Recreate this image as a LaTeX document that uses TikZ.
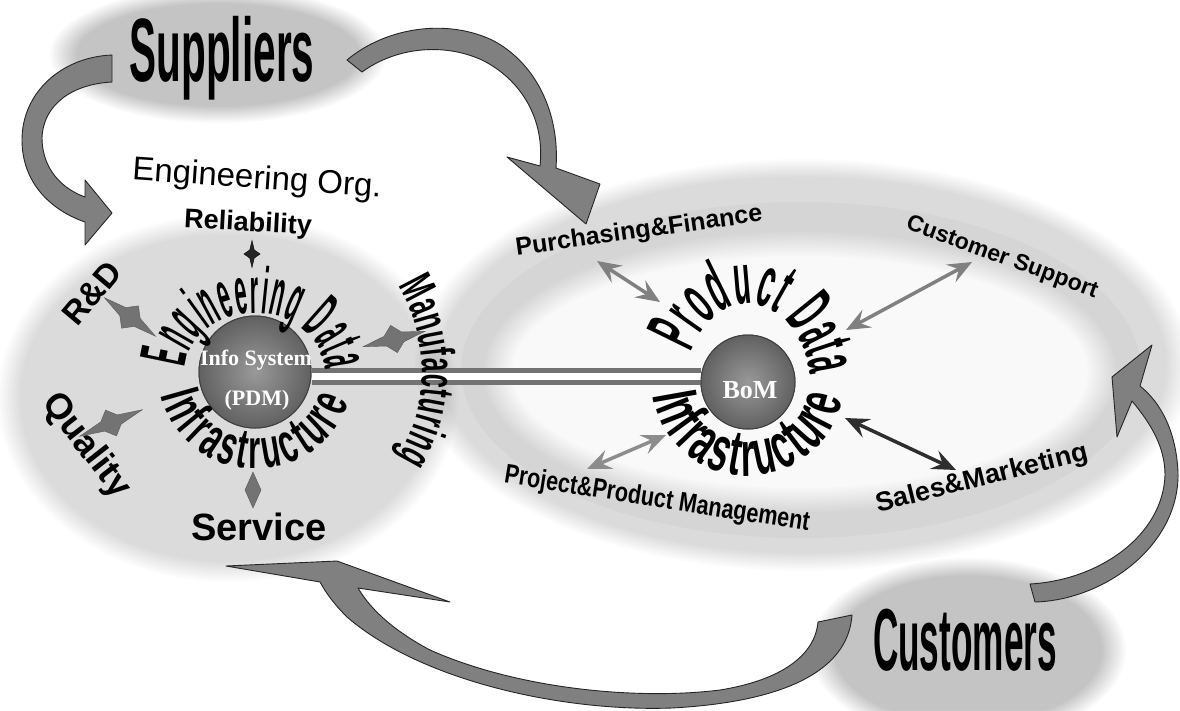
\documentclass[tikz,border=0pt]{standalone}
\usepackage{fontspec}
\setmainfont{Liberation Sans}
\newfontfamily\supfont[FakeStretch=0.45]{Liberation Sans}
\newfontfamily\custfont[FakeStretch=0.40]{Liberation Sans}
\newfontfamily\engfont[FakeStretch=0.33]{Liberation Sans}
\newfontfamily\arcfont[FakeStretch=0.55]{Liberation Sans}
\newfontfamily\manfont[FakeStretch=0.52]{Liberation Sans}
\newfontfamily\bigarcfont[FakeStretch=0.39]{Liberation Sans}
\newfontfamily\condfont[FakeStretch=0.8]{Liberation Sans}
\newfontfamily\serf{Liberation Serif}
\usetikzlibrary{arrows.meta,decorations.text,shapes.geometric}
\begin{document}
\begin{tikzpicture}[x=1pt,y=-1pt,
  bandarrow/.style={fill=black!50, draw=black!85, line width=0.9pt, line join=round},
  starfill/.style={fill=black!55, draw=black!65, line width=0.4pt, line join=miter},
  thinar/.style={line width=3.5pt, {Stealth[length=24pt,width=20pt,inset=9pt]}-{Stealth[length=24pt,width=20pt,inset=9pt]}},
  hub/.style={circle, draw=black!75, line width=1pt, inner color=black!40, outer color=black!62, inner sep=0pt},
  lbl/.style={inner sep=0pt, text=black},
  haze/.style={fill=black, fill opacity=#1},
  pics/fourstar/.style args={#1/#2/#3}{code={
    \fill[starfill] (#1,0) -- (9,5) -- (0,#2) -- (-9,5) -- (-#1,0) -- (-9,-5) -- (0,-#2) -- (9,-5) -- cycle;}},
]
\useasboundingbox (0,0) rectangle (1180,710);
\fill[white] (0,0) rectangle (1180,710);

% background blobs (soft edges from stacked translucent layers)
\fill[haze=0.025] (801,370) ellipse [x radius=340, y radius=168];
\foreach \k in {0,...,11}{
  \fill[haze=0.012, even odd rule] (803,365) ellipse [x radius={388-2.2*\k}, y radius={206-1.6*\k}]
     (800,372) ellipse [x radius={288+2.6*\k}, y radius={116+2.2*\k}];
}
\foreach \k in {0,...,11}{
  \fill[haze=0.011] (228,398) ellipse [x radius={230-2*\k}, y radius={184-1.8*\k}];
}
\foreach \k in {0,...,11}{
  \fill[haze=0.021] (218,55) ellipse [x radius={168-2.4*\k}, y radius={68-1.5*\k}];
}
\foreach \k in {0,...,11}{
  \fill[haze=0.020] (968,650) ellipse [x radius={158-2.2*\k}, y radius={92-1.6*\k}];
}

% big block arrows
\draw[bandarrow] (112,55) .. controls (62,57) and (22,92) .. (22,140)
  .. controls (22,182) and (50,210) .. (85,222) -- (85,245) -- (112,213) -- (85,180) -- (85,197)
  .. controls (55,186) and (42,162) .. (42,138) .. controls (43,105) and (72,84) .. (112,82) -- cycle;
\draw[bandarrow] (347,60) .. controls (385,28) and (445,18) .. (492,40)
  .. controls (535,62) and (560,112) .. (556,168) -- (600,184) -- (586,224) -- (507,157) -- (540,166)
  .. controls (545,120) and (522,80) .. (482,60) .. controls (442,42) and (395,48) .. (362,72) -- cycle;
\draw[bandarrow] (1035,602) .. controls (1105,600) and (1180,545) .. (1178,472)
  .. controls (1176,430) and (1160,402) .. (1140,386) -- (1152,345) -- (1112,377) -- (1117,437) -- (1132,401)
  .. controls (1152,425) and (1165,448) .. (1165,475) .. controls (1163,535) and (1100,580) .. (1030,584) -- cycle;
\draw[bandarrow] (852,615) .. controls (848,672) and (782,702) .. (672,708)
  .. controls (560,712) and (420,680) .. (347,617) .. controls (334,604) and (326,593) .. (320,582)
  -- (226,566) -- (337,561) -- (450,602) -- (358,588)
  .. controls (372,612) and (398,633) .. (430,650) .. controls (520,690) and (640,700) .. (720,690)
  .. controls (782,680) and (815,655) .. (818,622) -- cycle;

% hubs
\node[hub, minimum size=112pt] (pdm) at (255,372) {};
\node[hub, minimum size=94pt] (bom) at (748,382) {};
\draw[draw=black!55, line width=5pt, double=white, double distance=7pt]
  (pdm.east |- 0,376.5) -- (bom.west |- 0,376.5);
\node[hub, minimum size=112pt] at (pdm) {};
\node[hub, minimum size=94pt] at (bom) {};
\node[lbl, text=white] (infosys) at (256,360) {\serf\bfseries\fontsize{22}{22}\selectfont Info System};
\node[lbl, text=white] (pdmtxt) at (257,400) {\serf\bfseries\fontsize{22}{22}\selectfont (PDM)};
\node[lbl, text=white] (bomtxt) at (750,390) {\serf\bfseries\fontsize{26}{26}\selectfont BoM};

% curved texts
\path[decorate, decoration={text along path, text format delimiters={|}{|},
  text={|\engfont\bfseries\fontsize{66}{66}\selectfont|Engineering Data}, text align={fit to path}}]
  plot[samples=45, domain=0:1] ({255+70*cos(184+174*\x)}, {372+59*sin(184+174*\x)});
\path[decorate, decoration={text along path, text format delimiters={|}{|},
  text={|\arcfont\bfseries\fontsize{56}{56}\selectfont|Infrastructure}, text align={fit to path}}]
  plot[samples=45, domain=0:1] ({256+98*cos(166-148*\x)}, {372+97*sin(166-148*\x)});
\path[decorate, decoration={text along path, text format delimiters={|}{|},
  text={|\manfont\bfseries\fontsize{48}{48}\selectfont|Manufacturing}, text align={fit to path}}]
  plot[samples=45, domain=0:1] ({255+167*cos(-31+62*\x)}, {372+167*sin(-31+62*\x)});
\path[decorate, decoration={text along path, text format delimiters={|}{|},
  text={|\bigarcfont\bfseries\fontsize{72}{72}\selectfont|Product Data}, text align={fit to path}}]
  plot[samples=45, domain=0:1] ({748+63*cos(205+146*\x)}, {388+84*sin(205+146*\x)});
\path[decorate, decoration={text along path, text format delimiters={|}{|},
  text={|\arcfont\bfseries\fontsize{64}{64}\selectfont|Infrastructure}, text align={fit to path}}]
  plot[samples=45, domain=0:1] ({748+96*cos(172-162*\x)}, {382+94*sin(172-162*\x)});

% big labels
\node[lbl] (sup) at (222,58) {\supfont\bfseries\fontsize{90}{90}\selectfont Suppliers};
\node[lbl] (cust) at (965,640) {\custfont\bfseries\fontsize{88}{88}\selectfont Customers};

% engineering labels
\node[lbl, rotate=-4] (engorg) at (257,180) {\fontsize{33}{36}\selectfont Engineering Org.};
\node[lbl, rotate=-3] (rel) at (248,224) {\bfseries\fontsize{27}{30}\selectfont Reliability};
\node[lbl, rotate=50] (rd) at (92,293) {\bfseries\fontsize{33}{36}\selectfont R\&D};
\node[lbl, rotate=-52] (qual) at (86,446) {\bfseries\fontsize{36}{40}\selectfont Quality};
\node[lbl] (serv) at (259,527) {\bfseries\fontsize{38}{40}\selectfont Service};

% product labels
\node[lbl, rotate=8] (purch) at (639,232) {\bfseries\fontsize{25}{28}\selectfont Purchasing\&Finance};
\node[lbl, rotate=-20] (csup) at (1002,258) {\bfseries\fontsize{23}{26}\selectfont Customer Support};
\node[lbl, rotate=-9] (proj) at (657,500) {\condfont\bfseries\fontsize{27}{30}\selectfont Project\&Product Management};
\node[lbl, rotate=14] (sales) at (982,479) {\bfseries\fontsize{27}{30}\selectfont Sales\&Marketing};

% star connectors (engineering side)
\coordinate (relS) at (252,254);
\pic[rotate=90, scale=0.45, starfill/.append style={fill=black!85, draw=black}] at (relS) {fourstar=30/18/};
\coordinate (rdS) at (130,317);
\pic[rotate=-37] at (rdS) {fourstar=32/14/};
\coordinate (manS) at (394,339);
\pic[rotate=14] at (manS) {fourstar=32/14/};
\coordinate (qS) at (111,423);
\pic[rotate=23] at (qS) {fourstar=34/14/};
\coordinate (svA) at (253,472); \coordinate (svB) at (253,508);
\fill[starfill] (svA) -- (261,490) -- (svB) -- (245,490) -- cycle;

% product arrows
\coordinate (puA) at (597,261); \coordinate (puB) at (660,302);
\draw[thinar, black!50] (puA) -- (puB);
\coordinate (csA) at (846,330); \coordinate (csB) at (972,262);
\draw[thinar, black!50] (csA) -- (csB);
\coordinate (prA) at (587,469); \coordinate (prB) at (666,435);
\draw[thinar, black!45] (prA) -- (prB);
\coordinate (saA) at (845,418); \coordinate (saB) at (956,470);
\draw[thinar, black!82] (saA) -- (saB);
\end{tikzpicture}
\end{document}
